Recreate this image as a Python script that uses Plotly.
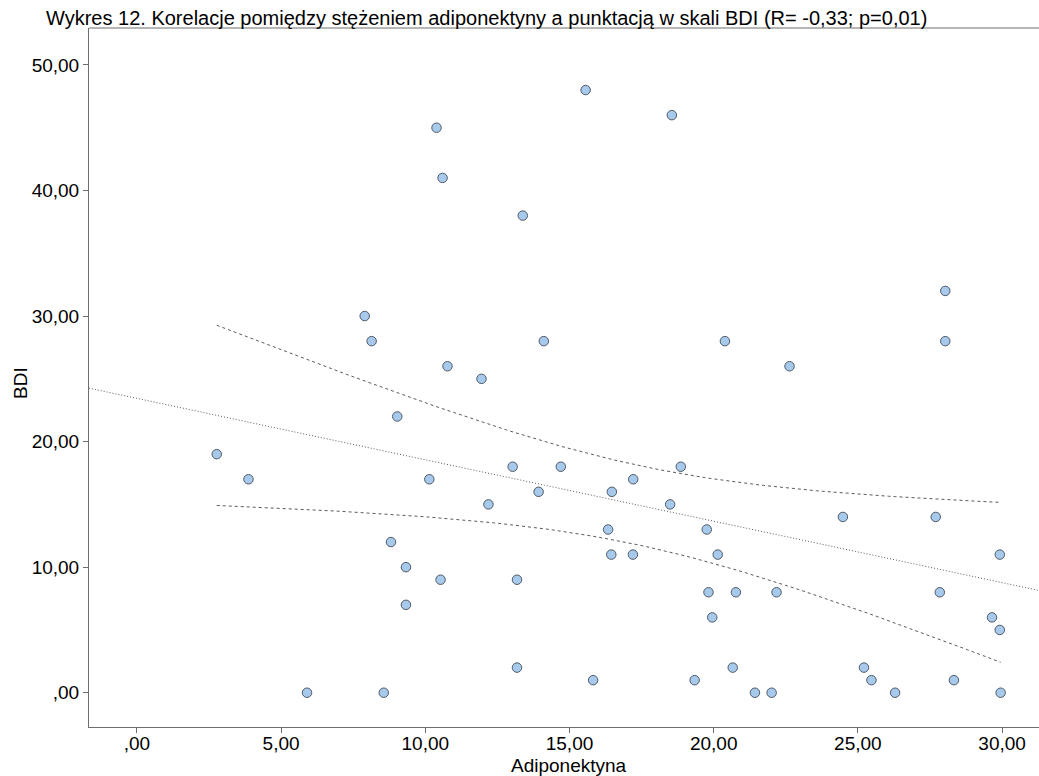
import numpy as np
import plotly.graph_objects as go

# Data
adiponektyna = [10.39, 10.60, 15.56, 18.55, 13.38, 28.03, 7.90, 8.14, 10.77, 11.95,
                9.03, 2.77, 3.87, 10.14, 14.11, 20.39, 13.03, 14.70, 18.86, 17.21,
                13.93, 16.47, 12.19, 18.49, 28.03, 22.63, 24.48, 27.70, 8.81, 9.33,
                10.53, 9.33, 5.90, 8.56, 16.34, 19.76, 16.45, 17.20, 20.14, 13.18,
                19.82, 20.77, 22.18, 19.95, 13.18, 20.66, 15.82, 19.34, 21.43, 22.01,
                29.92, 27.84, 29.65, 29.92, 25.21, 25.47, 28.33, 26.29, 29.95]
bdi = [45, 41, 48, 46, 38, 32, 30, 28, 26, 25,
       22, 19, 17, 17, 28, 28, 18, 18, 18, 17,
       16, 16, 15, 15, 28, 26, 14, 14, 12, 10,
       9, 7, 0, 0, 13, 13, 11, 11, 11, 9,
       8, 8, 8, 6, 2, 2, 1, 1, 0, 0,
       11, 8, 6, 5, 2, 1, 1, 0, 0]

x_tickvals = [0, 5, 10, 15, 20, 25, 30]
x_ticktext = [",00", "5,00", "10,00", "15,00", "20,00", "25,00", "30,00"]
y_tickvals = [0, 10, 20, 30, 40, 50]
y_ticktext = [",00", "10,00", "20,00", "30,00", "40,00", "50,00"]

title_text = "Wykres 12. Korelacje pomiędzy stężeniem adiponektyny a punktacją w skali BDI (R= -0,33; p=0,01)"
x_title = "Adiponektyna"
y_title = "BDI"

X_RANGE = [-1.66, 31.28]
Y_RANGE = [-2.73, 52.94]
T_CRIT = 2.0025  # t(0.975, df=57)

x = np.array(adiponektyna, dtype=float)
y = np.array(bdi, dtype=float)
n = len(x)
b1, b0 = np.polyfit(x, y, 1)
resid = y - (b0 + b1 * x)
s = np.sqrt(np.sum(resid ** 2) / (n - 2))
xm = x.mean()
sxx = np.sum((x - xm) ** 2)

xl = np.array(X_RANGE)
yl = b0 + b1 * xl

xc = np.linspace(x.min(), x.max(), 120)
yc = b0 + b1 * xc
half = T_CRIT * s * np.sqrt(1.0 / n + (xc - xm) ** 2 / sxx)

FONT = "Liberation Sans, Arial, Helvetica, sans-serif"
line_col = "#5a5a5a"

fig = go.Figure()
fig.add_trace(go.Scatter(x=xc, y=yc + half, mode="lines",
                         line=dict(color=line_col, width=1, dash="3px,3px"),
                         hoverinfo="skip", showlegend=False))
fig.add_trace(go.Scatter(x=xc, y=yc - half, mode="lines",
                         line=dict(color=line_col, width=1, dash="3px,3px"),
                         hoverinfo="skip", showlegend=False))
fig.add_trace(go.Scatter(x=xl, y=yl, mode="lines",
                         line=dict(color=line_col, width=1, dash="1px,2px"),
                         hoverinfo="skip", showlegend=False))
fig.add_trace(go.Scatter(x=adiponektyna, y=bdi, mode="markers",
                         marker=dict(size=9.5, color="#a6c9ec",
                                     line=dict(color="#505a66", width=1)),
                         showlegend=False))

fig.update_layout(
    width=1039, height=776,
    margin=dict(l=89, r=0, t=28, b=49),
    paper_bgcolor="white", plot_bgcolor="white",
    font=dict(family=FONT, size=19, color="black"),
    showlegend=False,
)
fig.update_xaxes(range=X_RANGE, tickmode="array", tickvals=x_tickvals, ticktext=x_ticktext,
                 showgrid=False, zeroline=False, showline=True, linecolor="#6e6e6e", linewidth=1,
                 ticks="outside", ticklen=5, tickcolor="#6e6e6e", mirror=False,
                 tickfont=dict(size=19), ticklabelstandoff=-6)
fig.update_yaxes(range=Y_RANGE, tickmode="array", tickvals=y_tickvals, ticktext=y_ticktext,
                 showgrid=False, zeroline=False, showline=True, linecolor="#6e6e6e", linewidth=1,
                 ticks="outside", ticklen=5, tickcolor="#6e6e6e",
                 tickfont=dict(size=19))

# top frame line
fig.add_shape(type="line", xref="paper", yref="paper", x0=0, x1=1, y0=1, y1=1,
              line=dict(color="#6e6e6e", width=1))

# title and axis titles
fig.add_annotation(text=title_text, xref="paper", yref="paper",
                   x=(44 - 89) / 950, y=1 + (28 - 18) / 699, xanchor="left", yanchor="middle",
                   showarrow=False, font=dict(family=FONT, size=20, color="black"))
fig.add_annotation(text=x_title, xref="paper", yref="paper",
                   x=(569 - 89) / 950, y=(727 - 765) / 699, xanchor="center", yanchor="middle",
                   showarrow=False, font=dict(family=FONT, size=19, color="black"))
fig.add_annotation(text=y_title, xref="paper", yref="paper",
                   x=(20 - 89) / 950, y=(727 - 383) / 699, xanchor="center", yanchor="middle",
                   textangle=-90, showarrow=False, font=dict(family=FONT, size=19, color="black"))

fig.write_html("out.html")
